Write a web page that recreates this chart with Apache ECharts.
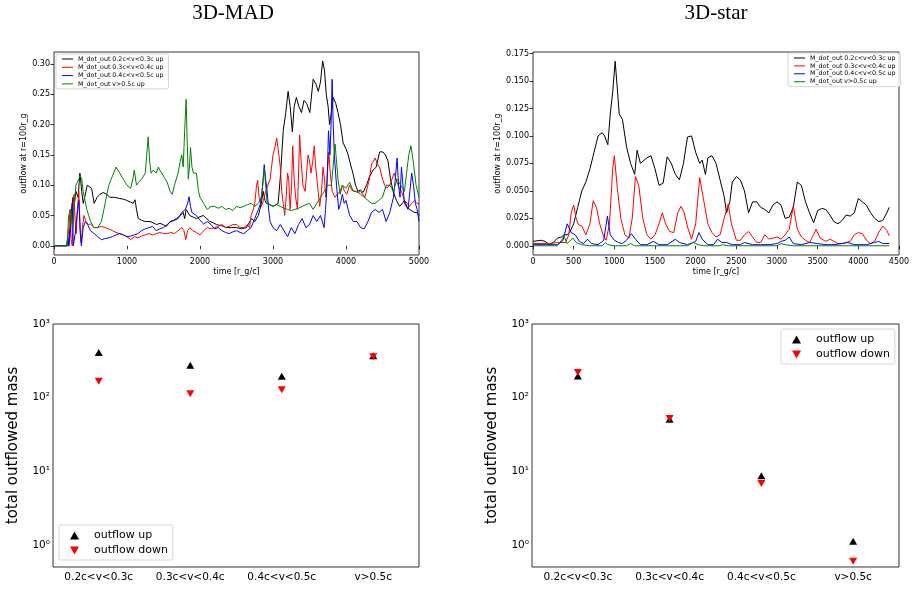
<!DOCTYPE html>
<html><head><meta charset="utf-8">
<script src="https://cdn.jsdelivr.net/npm/echarts@6/dist/echarts.min.js"></script>
<style>html,body{margin:0;padding:0;background:#fff}#c{width:920px;height:590px}</style>
</head><body><div id="c"></div><script>
// ---------- DATA ----------
const seriesNames = ['M_dot_out 0.2c<v<0.3c up','M_dot_out 0.3c<v<0.4c up','M_dot_out 0.4c<v<0.5c up','M_dot_out v>0.5c up'];
const lineColors = ['#000000','#ff0000','#0000ff','#008000'];
const madXTicks = [0,1000,2000,3000,4000,5000];
const madYTicks = [0,0.05,0.10,0.15,0.20,0.25,0.30];
const starXTicks = [0,500,1000,1500,2000,2500,3000,3500,4000,4500];
const starYTicks = [0,0.025,0.05,0.075,0.10,0.125,0.15,0.175];

const madBlack = [[0,0],[200,0],[230,0.05],[260,0.08],[280,0.07],[300,0.09],[330,0.08],[355,0.12],[380,0.09],[400,0.07],[430,0.085],[455,0.1],[480,0.098],[515,0.095],[550,0.07],[590,0.08],[630,0.085],[675,0.088],[720,0.085],[765,0.08],[830,0.08],[900,0.078],[950,0.077],[995,0.075],[1050,0.072],[1085,0.07],[1110,0.076],[1130,0.06],[1155,0.045],[1200,0.042],[1250,0.04],[1315,0.04],[1360,0.038],[1405,0.035],[1450,0.037],[1495,0.035],[1540,0.032],[1590,0.04],[1640,0.042],[1680,0.045],[1730,0.05],[1770,0.055],[1790,0.045],[1810,0.06],[1860,0.05],[1910,0.047],[1950,0.045],[2000,0.048],[2045,0.05],[2090,0.045],[2135,0.04],[2180,0.038],[2225,0.035],[2300,0.033],[2365,0.03],[2430,0.03],[2500,0.03],[2570,0.028],[2635,0.03],[2705,0.045],[2750,0.04],[2800,0.05],[2840,0.07],[2865,0.09],[2890,0.075],[2910,0.07],[2960,0.068],[3000,0.065],[3070,0.07],[3105,0.12],[3140,0.19],[3175,0.22],[3207,0.255],[3235,0.23],[3265,0.188],[3290,0.23],[3320,0.245],[3355,0.23],[3390,0.22],[3425,0.24],[3460,0.235],[3505,0.22],[3550,0.275],[3585,0.268],[3620,0.255],[3650,0.27],[3680,0.305],[3705,0.29],[3730,0.25],[3755,0.23],[3775,0.2],[3800,0.22],[3825,0.245],[3860,0.235],[3890,0.22],[3925,0.2],[3960,0.17],[4000,0.16],[4030,0.15],[4060,0.135],[4095,0.12],[4130,0.1],[4165,0.09],[4200,0.092],[4235,0.088],[4280,0.1],[4325,0.115],[4370,0.125],[4415,0.13],[4460,0.155],[4505,0.155],[4540,0.15],[4575,0.14],[4610,0.11],[4645,0.09],[4690,0.075],[4735,0.065],[4770,0.07],[4800,0.075],[4835,0.065],[4870,0.06],[4900,0.058],[4935,0.055],[4970,0.055],[5000,0.05]];
const madRed = [[0,0],[180,0],[205,0.03],[220,0.06],[235,0.01],[250,0.0],[262,0.05],[275,0.085],[290,0.04],[305,0.02],[320,0.06],[340,0.09],[358,0.03],[372,0.005],[390,0.03],[410,0.05],[440,0.04],[470,0.035],[500,0.036],[550,0.03],[600,0.03],[650,0.032],[700,0.03],[750,0.028],[800,0.025],[850,0.022],[900,0.02],[950,0.018],[1000,0.015],[1050,0.01],[1100,0.015],[1150,0.013],[1200,0.016],[1250,0.018],[1300,0.02],[1350,0.018],[1400,0.02],[1450,0.022],[1500,0.02],[1550,0.02],[1600,0.022],[1650,0.02],[1700,0.025],[1750,0.03],[1780,0.025],[1805,0.01],[1830,0.025],[1860,0.03],[1900,0.025],[1950,0.022],[2000,0.018],[2050,0.025],[2100,0.03],[2150,0.028],[2200,0.03],[2250,0.032],[2300,0.035],[2350,0.03],[2400,0.032],[2450,0.035],[2500,0.035],[2550,0.03],[2600,0.03],[2650,0.035],[2680,0.03],[2700,0.05],[2730,0.06],[2750,0.07],[2775,0.1],[2790,0.108],[2810,0.08],[2840,0.065],[2870,0.075],[2900,0.09],[2930,0.1],[2960,0.11],[3000,0.15],[3030,0.165],[3050,0.178],[3070,0.16],[3100,0.13],[3120,0.09],[3140,0.07],[3160,0.05],[3180,0.08],[3200,0.12],[3215,0.11],[3235,0.06],[3255,0.1],[3270,0.165],[3290,0.11],[3310,0.08],[3335,0.06],[3350,0.12],[3365,0.183],[3385,0.14],[3410,0.1],[3440,0.09],[3460,0.12],[3480,0.15],[3500,0.14],[3520,0.12],[3545,0.14],[3565,0.165],[3585,0.13],[3610,0.1],[3640,0.065],[3665,0.09],[3685,0.13],[3705,0.11],[3725,0.08],[3745,0.12],[3765,0.155],[3785,0.12],[3810,0.09],[3850,0.08],[3880,0.085],[3920,0.09],[3950,0.1],[3980,0.09],[4010,0.085],[4050,0.1],[4080,0.092],[4120,0.09],[4160,0.088],[4200,0.09],[4230,0.085],[4260,0.08],[4290,0.095],[4320,0.11],[4350,0.135],[4380,0.14],[4400,0.145],[4430,0.135],[4460,0.13],[4500,0.11],[4530,0.1],[4560,0.095],[4600,0.1],[4630,0.11],[4660,0.12],[4700,0.105],[4730,0.095],[4760,0.09],[4800,0.075],[4840,0.07],[4870,0.065],[4900,0.07],[4940,0.075],[4970,0.07],[5000,0.07]];
const madBlue = [[0,0],[170,0],[190,0.015],[205,0.0],[230,0.03],[250,0.07],[265,0.0],[290,0.02],[315,0.05],[340,0.075],[360,0.02],[375,0.0],[400,0.03],[430,0.04],[460,0.035],[500,0.025],[550,0.02],[600,0.015],[650,0.01],[700,0.012],[750,0.013],[800,0.015],[850,0.018],[900,0.02],[950,0.018],[1000,0.015],[1050,0.016],[1100,0.018],[1150,0.02],[1200,0.025],[1250,0.028],[1300,0.03],[1350,0.032],[1400,0.025],[1450,0.028],[1500,0.03],[1550,0.035],[1600,0.04],[1650,0.042],[1700,0.045],[1750,0.055],[1800,0.06],[1830,0.07],[1850,0.081],[1870,0.065],[1890,0.055],[1950,0.05],[2000,0.042],[2050,0.036],[2100,0.04],[2150,0.035],[2200,0.028],[2250,0.03],[2300,0.025],[2350,0.022],[2400,0.02],[2450,0.023],[2500,0.025],[2550,0.022],[2600,0.02],[2650,0.025],[2700,0.03],[2750,0.045],[2800,0.06],[2830,0.07],[2850,0.09],[2880,0.134],[2900,0.11],[2920,0.09],[2940,0.06],[2960,0.04],[3000,0.03],[3050,0.025],[3100,0.035],[3150,0.025],[3200,0.015],[3250,0.03],[3300,0.02],[3350,0.035],[3400,0.045],[3450,0.03],[3500,0.035],[3550,0.05],[3600,0.04],[3650,0.05],[3700,0.03],[3720,0.06],[3740,0.1],[3760,0.19],[3780,0.15],[3795,0.2],[3810,0.275],[3825,0.2],[3840,0.15],[3870,0.1],[3900,0.06],[3925,0.07],[3950,0.085],[3975,0.07],[4000,0.075],[4050,0.05],[4100,0.04],[4150,0.04],[4200,0.03],[4250,0.028],[4300,0.04],[4350,0.055],[4400,0.06],[4450,0.055],[4500,0.06],[4550,0.04],[4600,0.055],[4650,0.08],[4675,0.11],[4700,0.145],[4720,0.1],[4740,0.08],[4760,0.13],[4780,0.1],[4800,0.07],[4850,0.06],[4875,0.09],[4900,0.12],[4925,0.1],[4950,0.07],[4975,0.06],[5000,0.04]];
const madGreen = [[0,0],[180,0],[200,0.05],[215,0.055],[230,0.06],[245,0.04],[260,0.03],[280,0.07],[300,0.1],[320,0.105],[340,0.11],[360,0.115],[380,0.11],[400,0.09],[425,0.075],[450,0.06],[475,0.05],[500,0.04],[550,0.03],[600,0.03],[650,0.04],[700,0.07],[750,0.1],[800,0.115],[850,0.13],[900,0.12],[950,0.11],[1000,0.1],[1050,0.095],[1080,0.11],[1100,0.125],[1130,0.1],[1160,0.105],[1200,0.11],[1250,0.12],[1270,0.15],[1290,0.18],[1310,0.14],[1330,0.12],[1360,0.125],[1400,0.12],[1430,0.13],[1450,0.125],[1500,0.115],[1550,0.105],[1590,0.09],[1620,0.085],[1650,0.1],[1700,0.12],[1730,0.14],[1750,0.15],[1770,0.13],[1790,0.19],[1810,0.242],[1825,0.17],[1840,0.11],[1855,0.13],[1870,0.162],[1890,0.13],[1910,0.12],[1950,0.12],[1980,0.09],[2000,0.08],[2050,0.07],[2100,0.06],[2150,0.065],[2200,0.065],[2250,0.062],[2300,0.065],[2350,0.06],[2400,0.062],[2450,0.058],[2500,0.065],[2550,0.063],[2600,0.065],[2650,0.068],[2700,0.07],[2750,0.065],[2800,0.07],[2840,0.08],[2860,0.1],[2880,0.128],[2900,0.1],[2920,0.07],[2950,0.068],[3000,0.065],[3050,0.068],[3100,0.065],[3150,0.062],[3200,0.06],[3250,0.058],[3300,0.06],[3350,0.062],[3400,0.065],[3450,0.068],[3500,0.07],[3550,0.06],[3600,0.07],[3650,0.08],[3700,0.09],[3750,0.1],[3800,0.1],[3830,0.14],[3850,0.168],[3870,0.14],[3890,0.11],[3920,0.085],[3950,0.1],[4000,0.095],[4050,0.105],[4100,0.09],[4150,0.09],[4200,0.085],[4250,0.08],[4300,0.075],[4350,0.07],[4400,0.07],[4450,0.075],[4500,0.08],[4550,0.1],[4600,0.1],[4650,0.09],[4700,0.11],[4750,0.1],[4800,0.09],[4830,0.12],[4860,0.15],[4890,0.165],[4920,0.14],[4960,0.1],[5000,0.08]];

const starBlack = [[0,0.004],[100,0.005],[150,0.004],[200,0.001],[250,0.003],[300,0.007],[350,0.008],[380,0.01],[420,0.01],[450,0.012],[500,0.02],[550,0.035],[600,0.05],[650,0.058],[700,0.07],[750,0.085],[800,0.1],[850,0.103],[880,0.1],[920,0.092],[950,0.12],[980,0.14],[1010,0.168],[1040,0.14],[1060,0.12],[1100,0.115],[1150,0.09],[1200,0.075],[1250,0.065],[1280,0.087],[1320,0.075],[1400,0.08],[1450,0.082],[1500,0.07],[1550,0.055],[1600,0.057],[1650,0.081],[1700,0.075],[1750,0.065],[1800,0.06],[1850,0.075],[1900,0.099],[1950,0.1],[2000,0.085],[2050,0.075],[2080,0.078],[2120,0.065],[2150,0.08],[2200,0.082],[2250,0.075],[2300,0.06],[2350,0.045],[2380,0.03],[2420,0.04],[2450,0.058],[2500,0.063],[2550,0.06],[2600,0.05],[2650,0.03],[2700,0.04],[2750,0.04],[2800,0.035],[2850,0.033],[2900,0.03],[2950,0.037],[3000,0.04],[3050,0.037],[3100,0.025],[3150,0.026],[3200,0.035],[3250,0.058],[3300,0.055],[3350,0.04],[3400,0.03],[3450,0.021],[3500,0.032],[3550,0.034],[3600,0.033],[3650,0.028],[3700,0.022],[3750,0.02],[3800,0.023],[3850,0.028],[3900,0.027],[3950,0.03],[4000,0.043],[4050,0.04],[4100,0.037],[4150,0.03],[4200,0.025],[4250,0.022],[4300,0.023],[4350,0.03],[4380,0.035]];
const starRed = [[0,0.002],[100,0.002],[200,0.002],[300,0.003],[400,0.003],[440,0.01],[470,0.03],[500,0.037],[530,0.025],[560,0.019],[600,0.018],[650,0.01],[700,0.02],[740,0.041],[780,0.035],[820,0.02],[870,0.008],[900,0.005],[940,0.02],[980,0.07],[1000,0.082],[1040,0.05],[1080,0.025],[1130,0.01],[1180,0.007],[1220,0.025],[1260,0.063],[1300,0.055],[1350,0.025],[1400,0.01],[1450,0.006],[1500,0.01],[1550,0.02],[1590,0.03],[1630,0.02],[1680,0.013],[1730,0.012],[1780,0.03],[1820,0.036],[1860,0.03],[1900,0.017],[1950,0.006],[2000,0.02],[2050,0.062],[2090,0.045],[2150,0.02],[2200,0.012],[2250,0.008],[2300,0.01],[2350,0.025],[2400,0.038],[2440,0.02],[2500,0.005],[2550,0.005],[2600,0.01],[2650,0.013],[2700,0.008],[2750,0.003],[2800,0.003],[2850,0.01],[2900,0.006],[2950,0.007],[3000,0.008],[3050,0.006],[3100,0.01],[3150,0.015],[3200,0.036],[3250,0.015],[3300,0.008],[3350,0.005],[3400,0.003],[3450,0.01],[3480,0.015],[3530,0.007],[3600,0.004],[3650,0.006],[3700,0.004],[3750,0.002],[3800,0.002],[3850,0.003],[3900,0.004],[3950,0.01],[4000,0.012],[4050,0.011],[4100,0.005],[4150,0.002],[4200,0.004],[4250,0.012],[4300,0.018],[4350,0.014],[4380,0.009]];
const starBlue = [[0,0.001],[300,0.001],[370,0.005],[420,0.02],[470,0.012],[520,0.01],[570,0.004],[620,0.002],[670,0.006],[720,0.002],[800,0.001],[870,0.005],[915,0.027],[950,0.01],[1000,0.005],[1050,0.003],[1100,0.002],[1150,0.005],[1210,0.011],[1260,0.006],[1320,0.001],[1400,0.001],[1480,0.004],[1550,0.001],[1650,0.001],[1750,0.006],[1800,0.003],[1900,0.001],[2000,0.004],[2040,0.012],[2080,0.006],[2150,0.001],[2220,0.001],[2270,0.006],[2320,0.003],[2380,0.003],[2450,0.001],[2550,0.001],[2600,0.003],[2700,0.001],[2800,0.001],[2900,0.001],[3000,0.002],[3050,0.004],[3100,0.005],[3150,0.008],[3200,0.002],[3300,0.001],[3400,0.003],[3500,0.002],[3600,0.001],[3700,0.001],[3800,0.002],[3870,0.003],[3950,0.001],[4100,0.001],[4200,0.003],[4250,0.004],[4300,0.002],[4380,0.002]];
const starGreen = [[0,0.0],[300,0.0],[350,0.005],[380,0.009],[420,0.002],[490,0.007],[530,0.003],[600,0.001],[700,0.0],[850,0.0],[890,0.003],[920,0.001],[1000,0.0],[1150,0.0],[1200,0.002],[1250,0.0],[1900,0.0],[1970,0.003],[2030,0.001],[2100,0.0],[2300,0.0],[2330,0.001],[2400,0.0],[3000,0.0],[3050,0.002],[3100,0.001],[3200,0.0],[4380,0.0]];

const velCats = ['0.2c<v<0.3c','0.3c<v<0.4c','0.4c<v<0.5c','v>0.5c'];
const madUp = [410, 276, 195, 370];
const madDown = [167, 113, 128, 358];
const starUp = [197, 51, 8.7, 1.12];
const starDown = [219, 52, 6.8, 0.6];
const logMajorTicks = [1, 10, 100, 1000];
const logMinorTicks = [0.6,0.7,0.8,0.9,2,3,4,5,6,7,8,9,20,30,40,50,60,70,80,90,200,300,400,500,600,700,800,900];

// ---------- CHART ----------
const FONT = 'DejaVu Sans';
const chart = echarts.init(document.getElementById('c'), null, {renderer: 'canvas'});
const sup = {'0':'\u2070','1':'\u00b9','2':'\u00b2','3':'\u00b3','-':'\u207b'};
function logFmt(v){ const e = Math.round(Math.log10(v)); return '10' + String(e).split('').map(c=>sup[c]).join(''); }
const upIcon = 'path://M5,0L10,8.66L0,8.66Z';
const downIcon = 'path://M0,0L10,0L5,8.66Z';
const lineIcon = 'path://M0,0H11V1H0Z';

function frame(left, top, width, height){
  return {left, top, width, height, show:true, borderColor:'#000', borderWidth:0.8, backgroundColor:'transparent', containLabel:false};
}
function valX(gi, max, ticks){
  return {type:'value', gridIndex:gi, min:0, max:max,
    axisLine:{show:false}, splitLine:{show:false},
    axisTick:{customValues:ticks, length:3.5, lineStyle:{color:'#000', width:0.8}},
    axisLabel:{customValues:ticks, fontSize:8, margin:3, color:'#000', fontFamily:FONT, formatter:v=>String(v)},
    name:'time [r_g/c]', nameLocation:'middle', nameGap:13,
    nameTextStyle:{fontSize:8, color:'#000', fontFamily:FONT}};
}
function valY(gi, min, max, ticks, dec, gap){
  return {type:'value', gridIndex:gi, min:min, max:max,
    axisLine:{show:false}, splitLine:{show:false},
    axisTick:{customValues:ticks, length:3.5, lineStyle:{color:'#000', width:0.8}},
    axisLabel:{customValues:ticks, fontSize:8, margin:4, color:'#000', fontFamily:FONT, formatter:v=>v.toFixed(dec)},
    name:'outflow at r=100r_g', nameLocation:'middle', nameGap:gap,
    nameTextStyle:{fontSize:8, color:'#000', fontFamily:FONT}};
}
function catX(gi){
  return {type:'category', gridIndex:gi, data:velCats, boundaryGap:true,
    axisLine:{show:false}, splitLine:{show:false},
    axisTick:{alignWithLabel:true, length:3.5, lineStyle:{color:'#000', width:0.8}},
    axisLabel:{interval:0, fontSize:10.5, margin:5, color:'#000', fontFamily:FONT}};
}
function logY(gi){
  return {type:'log', logBase:10, gridIndex:gi, min:0.5, max:1000,
    axisLine:{show:false}, splitLine:{show:false},
    axisTick:{customValues:logMajorTicks, length:3.5, lineStyle:{color:'#000', width:0.8}},
    axisLabel:{customValues:logMajorTicks, fontSize:10.5, margin:3, color:'#000', fontFamily:FONT, formatter:logFmt},
    name:'total outflowed mass', nameLocation:'middle', nameGap:32,
    nameTextStyle:{fontSize:15, color:'#000', fontFamily:FONT}};
}
function logYMinor(gi){
  return {type:'log', logBase:10, gridIndex:gi, min:0.5, max:1000, position:'left', offset:0,
    axisLine:{show:false}, splitLine:{show:false}, axisLabel:{show:false},
    axisTick:{customValues:logMinorTicks, length:2, lineStyle:{color:'#000', width:0.6}}};
}

const madData = [madBlack, madRed, madBlue, madGreen];
const starData = [starBlack, starRed, starBlue, starGreen];
const series = [];
madData.forEach((d,i)=>series.push({type:'line', name:seriesNames[i], xAxisIndex:0, yAxisIndex:0, data:d,
  symbol:'none', lineStyle:{color:lineColors[i], width:1}, itemStyle:{color:lineColors[i]}, animation:false}));
starData.forEach((d,i)=>series.push({type:'line', name:seriesNames[i], xAxisIndex:1, yAxisIndex:1, data:d,
  symbol:'none', lineStyle:{color:lineColors[i], width:1}, itemStyle:{color:lineColors[i]}, animation:false}));
[[madUp, madDown, 2, 2],[starUp, starDown, 3, 3]].forEach(([up, down, xi, yi])=>{
  series.push({type:'scatter', name:'outflow up', xAxisIndex:xi, yAxisIndex:yi, data:up,
    symbol:upIcon, symbolSize:[8,7], itemStyle:{color:'#000', opacity:1}, animation:false});
  series.push({type:'scatter', name:'outflow down', xAxisIndex:xi, yAxisIndex:yi, data:down,
    symbol:downIcon, symbolSize:[8,7], itemStyle:{color:'#ff0000', opacity:1}, animation:false});
});

function lineLegend(left, top, gap){
  return {orient:'vertical', left, top, selectedMode:false,
    data:seriesNames.map((n,i)=>({name:n, icon:lineIcon, itemStyle:{color:lineColors[i]}})),
    itemWidth:11, itemHeight:7, itemGap:gap, padding:[2,5,2,6], symbolKeepAspect:true,
    borderColor:'#cccccc', borderWidth:0.8, borderRadius:2, backgroundColor:'rgba(255,255,255,0.8)',
    textStyle:{fontSize:6.3, color:'#000', fontFamily:FONT}};
}
function scatLegend(left, top){
  return {orient:'vertical', left, top, selectedMode:false,
    data:[{name:'outflow up', icon:upIcon},{name:'outflow down', icon:downIcon}],
    itemWidth:9, itemHeight:8, itemGap:4, padding:[5,5,4,11], symbolKeepAspect:true,
    borderColor:'#cccccc', borderWidth:0.8, borderRadius:2, backgroundColor:'rgba(255,255,255,0.8)',
    textStyle:{fontSize:11, color:'#000', fontFamily:FONT, padding:[0,0,0,10]}};
}

chart.setOption({
  animation:false,
  textStyle:{fontFamily:FONT},
  title:[
    {text:'3D-MAD', left:233, top:3, padding:0, textAlign:'center', textStyle:{fontFamily:'Liberation Serif', fontSize:21, fontWeight:'normal', color:'#000'}},
    {text:'3D-star', left:716, top:3, padding:0, textAlign:'center', textStyle:{fontFamily:'Liberation Serif', fontSize:21, fontWeight:'normal', color:'#000'}}
  ],
  grid:[frame(54,52,365,203), frame(533,52,366,203), frame(53,324,366,243), frame(532,324,367,243)],
  xAxis:[valX(0,5000,madXTicks), valX(1,4500,starXTicks), catX(2), catX(3)],
  yAxis:[valY(0,-0.01525,0.32,madYTicks,2,25), valY(1,-0.0084,0.1764,starYTicks,3,31), logY(2), logY(3), logYMinor(2), logYMinor(3)],
  legend:[lineLegend(56,54,2.3), lineLegend(788,53,1.9), scatLegend(59,525), scatLegend(781,329)],
  series:series
});
</script></body></html>
